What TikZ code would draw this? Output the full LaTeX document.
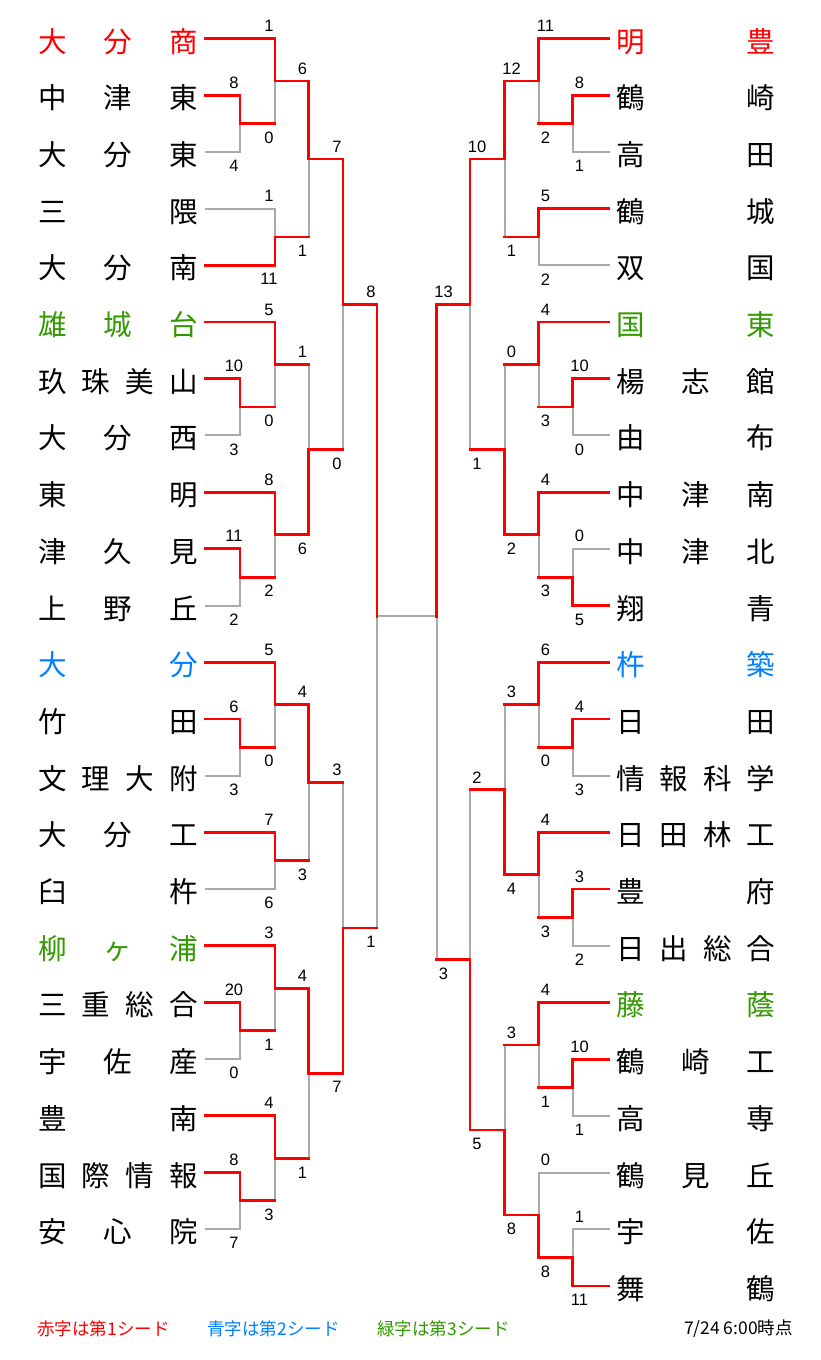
\documentclass[tikz,border=0pt]{standalone}
\usepackage{fontspec}
\newfontfamily\jpfont{Noto Sans CJK JP}
\newfontfamily\numfont{Liberation Sans}
\usetikzlibrary{calc}
\definecolor{wred}{RGB}{255,0,0}
\definecolor{lgray}{RGB}{170,170,170}
\definecolor{sblue}{RGB}{0,128,255}
\definecolor{sgreen}{RGB}{51,153,0}
\pgfdeclarelayer{back}
\pgfdeclarelayer{bg}
\pgfsetlayers{back,bg,main}
\tikzset{
 win/.style={draw=wred, line width=2.8pt, line cap=rect},
 lose/.style={draw=lgray, line width=2pt, line cap=rect},
 tn/.style={font=\jpfont\fontsize{28.5pt}{28.5pt}\selectfont, inner sep=0pt, anchor=base west},
 sc/.style={font=\numfont\fontsize{16.5pt}{16.5pt}\selectfont, inner sep=0pt},
 lg/.style={font=\jpfont\fontsize{17.5pt}{17.5pt}\selectfont, inner sep=0pt}
}
\def\losestr{lose}
\newcommand\seg[3]{\edef\segst{#1}\ifx\segst\losestr
  \begin{pgfonlayer}{bg}\draw[lose] (#2) -- (#3);\end{pgfonlayer}%
  \else\draw[#1] (#2) -- (#3);\fi}
% #1 name #2 column #3 label dx #4 top src #5 bottom src #6 top score #7 bottom score #8 top-in #9 bottom-in
\newcommand\bm[9]{%
  \coordinate (#1-t) at (#4 -| #2);
  \coordinate (#1-b) at (#5 -| #2);
  \coordinate (#1) at ($(#1-t)!0.5!(#1-b)$);
  \ifnum#6>#7\relax\def\tv{win}\def\bv{lose}\else\def\tv{lose}\def\bv{win}\fi
  \seg{#8}{#4}{#1-t}
  \seg{#9}{#5}{#1-b}
  \seg{\tv}{#1-t}{#1}
  \seg{\bv}{#1-b}{#1}
  \node[sc] (#1-ts) at ($(#1-t)+(#3,-12.5)$) {#6};
  \node[sc] (#1-bs) at ($(#1-b)+(#3,14)$) {#7};
}
\newcommand\teamL[3]{%
  \pgfmathsetmacro\yy{38.5+56.7*#1}
  \node[tn, text=#2] (tL#1) at (38,\yy+13.5) {\makebox[159.5pt]{#3}};
  \coordinate (pL#1) at (205.5,\yy);
}
\newcommand\teamR[3]{%
  \pgfmathsetmacro\yy{38.5+56.7*#1}
  \node[tn, text=#2] (tR#1) at (616,\yy+13.5) {\makebox[159pt]{#3}};
  \coordinate (pR#1) at (608.5,\yy);
}
\begin{document}
\begin{tikzpicture}[x=1pt,y=-1pt]
\begin{pgfonlayer}{back}
\fill[white] (0,0) rectangle (820,1360);
\end{pgfonlayer}
\path[use as bounding box] (0,0) rectangle (820,1360);
% columns
\coordinate (cL1) at (240,0);
\coordinate (cL2) at (275,0);
\coordinate (cL3) at (308.5,0);
\coordinate (cL4) at (343,0);
\coordinate (cL5) at (377,0);
\coordinate (cR1) at (572.5,0);
\coordinate (cR2) at (538.5,0);
\coordinate (cR3) at (504.5,0);
\coordinate (cR4) at (470,0);
\coordinate (cR5) at (436.5,0);
% left teams
\teamL{0}{wred}{大\hfill 分\hfill 商}
\teamL{1}{black}{中\hfill 津\hfill 東}
\teamL{2}{black}{大\hfill 分\hfill 東}
\teamL{3}{black}{三\hfill 隈}
\teamL{4}{black}{大\hfill 分\hfill 南}
\teamL{5}{sgreen}{雄\hfill 城\hfill 台}
\teamL{6}{black}{玖\hfill 珠\hfill 美\hfill 山}
\teamL{7}{black}{大\hfill 分\hfill 西}
\teamL{8}{black}{東\hfill 明}
\teamL{9}{black}{津\hfill 久\hfill 見}
\teamL{10}{black}{上\hfill 野\hfill 丘}
\teamL{11}{sblue}{大\hfill 分}
\teamL{12}{black}{竹\hfill 田}
\teamL{13}{black}{文\hfill 理\hfill 大\hfill 附}
\teamL{14}{black}{大\hfill 分\hfill 工}
\teamL{15}{black}{臼\hfill 杵}
\teamL{16}{sgreen}{柳\hfill ヶ\hfill 浦}
\teamL{17}{black}{三\hfill 重\hfill 総\hfill 合}
\teamL{18}{black}{宇\hfill 佐\hfill 産}
\teamL{19}{black}{豊\hfill 南}
\teamL{20}{black}{国\hfill 際\hfill 情\hfill 報}
\teamL{21}{black}{安\hfill 心\hfill 院}
% right teams
\teamR{0}{wred}{明\hfill 豊}
\teamR{1}{black}{鶴\hfill 崎}
\teamR{2}{black}{高\hfill 田}
\teamR{3}{black}{鶴\hfill 城}
\teamR{4}{black}{双\hfill 国}
\teamR{5}{sgreen}{国\hfill 東}
\teamR{6}{black}{楊\hfill 志\hfill 館}
\teamR{7}{black}{由\hfill 布}
\teamR{8}{black}{中\hfill 津\hfill 南}
\teamR{9}{black}{中\hfill 津\hfill 北}
\teamR{10}{black}{翔\hfill 青}
\teamR{11}{sblue}{杵\hfill 築}
\teamR{12}{black}{日\hfill 田}
\teamR{13}{black}{情\hfill 報\hfill 科\hfill 学}
\teamR{14}{black}{日\hfill 田\hfill 林\hfill 工}
\teamR{15}{black}{豊\hfill 府}
\teamR{16}{black}{日\hfill 出\hfill 総\hfill 合}
\teamR{17}{sgreen}{藤\hfill 蔭}
\teamR{18}{black}{鶴\hfill 崎\hfill 工}
\teamR{19}{black}{高\hfill 専}
\teamR{20}{black}{鶴\hfill 見\hfill 丘}
\teamR{21}{black}{宇\hfill 佐}
\teamR{22}{black}{舞\hfill 鶴}
% left bracket
\bm{mA1}{cL1}{-6}{pL1}{pL2}{8}{4}{win}{lose}
\bm{mA2}{cL2}{-6}{pL0}{mA1}{1}{0}{win}{win}
\bm{mA3}{cL2}{-6}{pL3}{pL4}{1}{11}{lose}{win}
\bm{mA4}{cL3}{-6}{mA2}{mA3}{6}{1}{win}{win}
\bm{mB1}{cL1}{-6}{pL6}{pL7}{10}{3}{win}{lose}
\bm{mB2}{cL2}{-6}{pL5}{mB1}{5}{0}{win}{win}
\bm{mB3}{cL1}{-6}{pL9}{pL10}{11}{2}{win}{lose}
\bm{mB4}{cL2}{-6}{pL8}{mB3}{8}{2}{win}{win}
\bm{mB5}{cL3}{-6}{mB2}{mB4}{1}{6}{win}{win}
\bm{mAB}{cL4}{-6}{mA4}{mB5}{7}{0}{win}{win}
\bm{mC1}{cL1}{-6}{pL12}{pL13}{6}{3}{win}{lose}
\bm{mC2}{cL2}{-6}{pL11}{mC1}{5}{0}{win}{win}
\bm{mC3}{cL2}{-6}{pL14}{pL15}{7}{6}{win}{lose}
\bm{mC4}{cL3}{-6}{mC2}{mC3}{4}{3}{win}{win}
\bm{mD1}{cL1}{-6}{pL17}{pL18}{20}{0}{win}{lose}
\bm{mD2}{cL2}{-6}{pL16}{mD1}{3}{1}{win}{win}
\bm{mD3}{cL1}{-6}{pL20}{pL21}{8}{7}{win}{lose}
\bm{mD4}{cL2}{-6}{pL19}{mD3}{4}{3}{win}{win}
\bm{mD5}{cL3}{-6}{mD2}{mD4}{4}{1}{win}{win}
\bm{mCD}{cL4}{-6}{mC4}{mD5}{3}{7}{win}{win}
\bm{mL}{cL5}{-6}{mAB}{mCD}{8}{1}{win}{win}
% right bracket
\bm{nA1}{cR1}{7}{pR1}{pR2}{8}{1}{win}{lose}
\bm{nA2}{cR2}{7}{pR0}{nA1}{11}{2}{win}{win}
\bm{nA3}{cR2}{7}{pR3}{pR4}{5}{2}{win}{lose}
\bm{nA4}{cR3}{7}{nA2}{nA3}{12}{1}{win}{win}
\bm{nB1}{cR1}{7}{pR6}{pR7}{10}{0}{win}{lose}
\bm{nB2}{cR2}{7}{pR5}{nB1}{4}{3}{win}{win}
\bm{nB3}{cR1}{7}{pR9}{pR10}{0}{5}{lose}{win}
\bm{nB4}{cR2}{7}{pR8}{nB3}{4}{3}{win}{win}
\bm{nB5}{cR3}{7}{nB2}{nB4}{0}{2}{win}{win}
\bm{nAB}{cR4}{7}{nA4}{nB5}{10}{1}{win}{win}
\bm{nC1}{cR1}{7}{pR12}{pR13}{4}{3}{win}{lose}
\bm{nC2}{cR2}{7}{pR11}{nC1}{6}{0}{win}{win}
\bm{nC3}{cR1}{7}{pR15}{pR16}{3}{2}{win}{lose}
\bm{nC4}{cR2}{7}{pR14}{nC3}{4}{3}{win}{win}
\bm{nC5}{cR3}{7}{nC2}{nC4}{3}{4}{win}{win}
\bm{nD1}{cR1}{7}{pR18}{pR19}{10}{1}{win}{lose}
\bm{nD2}{cR2}{7}{pR17}{nD1}{4}{1}{win}{win}
\bm{nD3}{cR1}{7}{pR21}{pR22}{1}{11}{lose}{win}
\bm{nD4}{cR2}{7}{pR20}{nD3}{0}{8}{lose}{win}
\bm{nD5}{cR3}{7}{nD2}{nD4}{3}{8}{win}{win}
\bm{nCD}{cR4}{7}{nC5}{nD5}{2}{5}{win}{win}
% right semifinal, meeting the final line
\coordinate (nR-t) at (nAB -| cR5);
\coordinate (nR-b) at (nCD -| cR5);
\coordinate (nR) at (mL -| cR5);
\seg{lose}{nR}{nR-b}
\seg{lose}{mL}{nR}
\seg{win}{nAB}{nR-t}
\seg{win}{nCD}{nR-b}
\seg{win}{nR-t}{nR}
\node[sc] (nR-ts) at ($(nR-t)+(7,-12.5)$) {13};
\node[sc] (nR-bs) at ($(nR-b)+(7,14)$) {3};
% legend
\node[lg, text=wred] (lg1) at (103.5,1329) {赤字は第1シード};
\node[lg, text=sblue] (lg2) at (273.5,1329) {青字は第2シード};
\node[lg, text=sgreen] (lg3) at (443.5,1329) {緑字は第3シード};
\node[lg, text=black] (lg4) at (738.5,1329) {7/24 6:00時点};
\end{tikzpicture}
\end{document}
